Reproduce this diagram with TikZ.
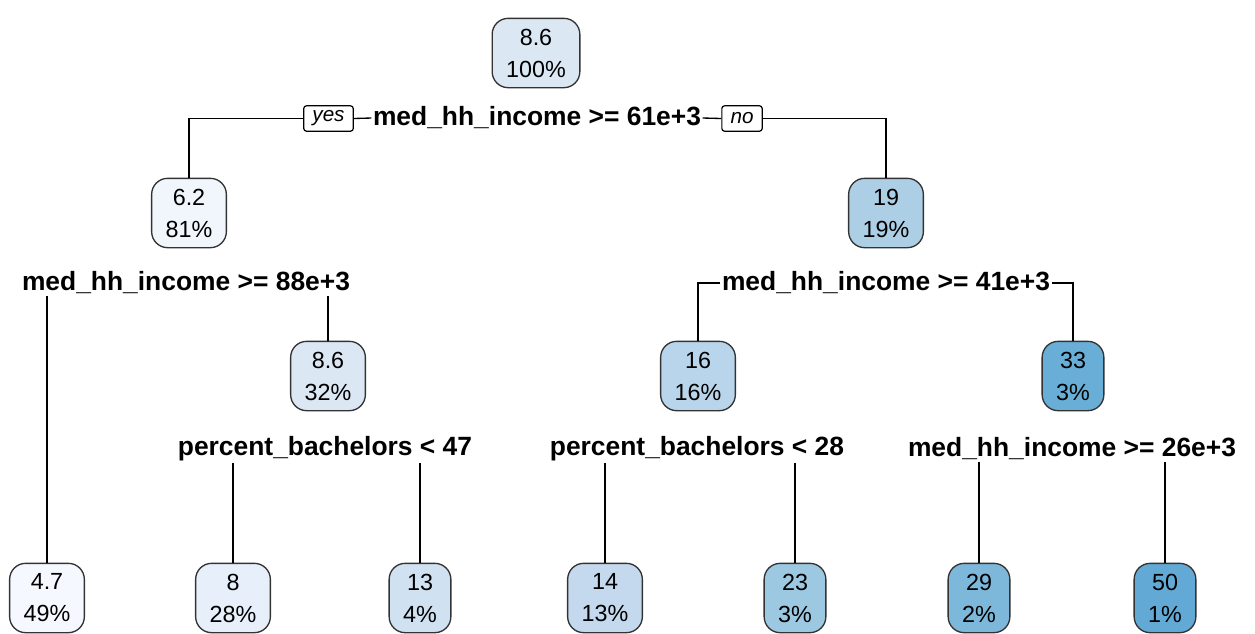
\documentclass[tikz,border=0pt]{standalone}
\usepackage{fontspec}
\setmainfont{Liberation Sans}

\definecolor{bluea}{HTML}{F5F9FF}
\definecolor{blueb}{HTML}{F1F6FD}
\definecolor{bluec}{HTML}{E6EFFA}
\definecolor{blued}{HTML}{DCE7F4}
\definecolor{bluee}{HTML}{D0E1F2}
\definecolor{bluef}{HTML}{C4D9EE}
\definecolor{blueg}{HTML}{B9D5EB}
\definecolor{blueh}{HTML}{ADCFE6}
\definecolor{bluei}{HTML}{9CC9E1}
\definecolor{bluej}{HTML}{7DB8DB}
\definecolor{bluek}{HTML}{68AED6}
\definecolor{bluel}{HTML}{63A9D5}

\begin{document}
\begin{tikzpicture}[x=0.75pt,y=-0.75pt,
    tnode/.style={draw=black!80,line width=1pt,fill=#1,rounded corners=12pt,
      align=center,minimum height=52pt,inner xsep=10.5pt,
      font=\fontsize{17.5}{24}\selectfont},
    splitlab/.style={font=\bfseries\fontsize{19.8}{22}\selectfont,inner sep=1pt},
    ynbox/.style={draw,line width=0.9pt,rounded corners=2pt,minimum height=19pt,
      inner xsep=6.5pt,font=\itshape\fontsize{15.5}{16}\selectfont},
    branch/.style={line width=1pt}]

  \useasboundingbox (0,0) rectangle (1255,633);

  % tree nodes
  \node[tnode=blued] (n1) at (536,53) {8.6\\100\%};
  \node[tnode=blueb] (n2) at (189,213) {6.2\\81\%};
  \node[tnode=blueh] (n3) at (886,213) {19\\19\%};
  \node[tnode=blued] (n5) at (328,376) {8.6\\32\%};
  \node[tnode=blueg] (n6) at (698,376) {16\\16\%};
  \node[tnode=bluek] (n7) at (1073,376) {33\\3\%};

  \node[tnode=bluea] (n4) at (47,598) {4.7\\49\%};
  \node[tnode=bluec] (n10) at (233,598) {8\\28\%};
  \node[tnode=bluee] (n11) at (420,598) {13\\4\%};
  \node[tnode=bluef] (n12) at (605,598) {14\\13\%};
  \node[tnode=bluei] (n13) at (795,598) {23\\3\%};
  \node[tnode=bluej] (n14) at (979,598) {29\\2\%};
  \node[tnode=bluel] (n15) at (1165,598) {50\\1\%};

  % split labels
  \node[splitlab] (s1) at (537,118) {med\_hh\_income >= 61e+3};
  \node[splitlab] (s2) at (186,283) {med\_hh\_income >= 88e+3};
  \node[splitlab] (s3) at (886,283) {med\_hh\_income >= 41e+3};
  \node[splitlab] (s4) at (325,449) {percent\_bachelors < 47};
  \node[splitlab] (s5) at (697,449) {percent\_bachelors < 28};
  \node[splitlab] (s6) at (1072,449) {med\_hh\_income >= 26e+3};

  \node[ynbox] (yes) at (328.5,118.5) {yes};
  \node[ynbox] (no) at (742,118.5) {no};

  % branches
  \draw[branch] (yes.east) -- (s1.west);
  \draw[branch] (s1.east) -- (no.west);
  \draw[branch] (yes.west) -| (n2.north);
  \draw[branch] (no.east) -| (n3.north);

  \foreach \nd in {n4,n5}
    \draw[branch] (\nd.north |- s2.south) -- (\nd.north);
  \draw[branch] (s3.west) -| (n6.north);
  \draw[branch] (s3.east) -| (n7.north);
  \foreach \nd in {n10,n11}
    \draw[branch] (\nd.north |- s4.south) -- (\nd.north);
  \foreach \nd in {n12,n13}
    \draw[branch] (\nd.north |- s5.south) -- (\nd.north);
  \foreach \nd in {n14,n15}
    \draw[branch] (\nd.north |- s6.south) -- (\nd.north);

\end{tikzpicture}
\end{document}
